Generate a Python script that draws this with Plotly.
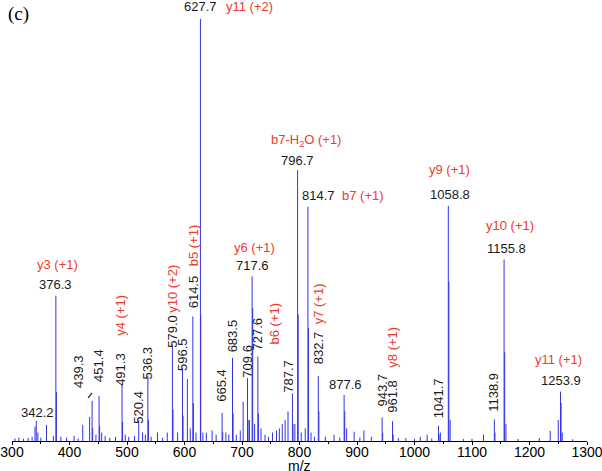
import plotly.graph_objects as go

# ---------------- data ----------------
# labelled peaks (m/z, relative intensity %)
peak_mz = [342.2, 376.3, 439.3, 451.4, 491.3, 520.4, 536.3, 579.0, 596.5, 614.5,
           627.7, 665.4, 683.5, 709.6, 717.6, 727.6, 787.7, 796.7, 814.7, 832.7,
           877.6, 943.7, 961.8, 1041.7, 1058.8, 1138.9, 1155.8, 1253.9]
peak_int = [4.8, 34.4, 9.5, 10.7, 13.3, 5.0, 15.5, 22.9, 17.4, 29.5,
            100.0, 6.7, 19.7, 14.9, 39.0, 20.0, 11.3, 64.2, 55.5, 15.4,
            10.9, 5.6, 4.7, 3.6, 55.7, 5.1, 43.0, 11.7]

# unlabelled peaks, isotopes and noise (m/z, relative intensity %)
minor_mz = [305, 312, 320, 328, 335, 340, 345, 350, 360, 372, 377.3, 385, 395, 408, 415,
            423, 435, 440.3, 446, 452.4, 456, 462, 470, 480, 492.3, 497, 503, 513, 527,
            532, 537.3, 542, 553, 562, 570, 580.0, 588, 597.5, 605, 610, 615.5, 620, 628.2,
            632, 638, 648, 655, 666.4, 672, 677, 684.5, 690, 697, 702, 710.6, 713, 718.6,
            722, 728.6, 733, 740, 746, 753, 760, 765, 770, 775, 780, 788.7, 792, 797.7,
            803, 810, 815.7, 820, 826, 833.7, 845, 860, 870, 878.6, 882, 895, 905, 912,
            925, 944.7, 962.8, 972, 985, 1000, 1010, 1022, 1030, 1042.7, 1045, 1059.8,
            1062, 1085, 1100, 1120, 1139.9, 1156.8, 1159, 1180, 1217, 1236, 1250, 1254.9,
            1257, 1275]
minor_int = [0.6, 0.8, 0.5, 0.7, 1.0, 3.4, 2.0, 0.8, 3.8, 1.2, 11.6, 1.0, 0.8, 1.2, 0.6,
             3.8, 5.7, 3.0, 1.5, 3.5, 2.0, 1.2, 0.8, 1.0, 4.5, 1.5, 1.0, 1.2, 2.0,
             1.5, 5.0, 1.0, 2.0, 0.8, 2.0, 7.5, 2.0, 6.0, 14.7, 3.0, 9.0, 2.0, 30.0,
             2.0, 2.0, 2.5, 1.5, 2.2, 2.0, 1.5, 6.5, 1.5, 2.5, 9.3, 5.0, 5.0, 31.5,
             4.0, 6.5, 3.0, 1.5, 1.0, 2.0, 2.5, 3.0, 4.0, 5.0, 7.0, 4.0, 4.0, 30.0,
             2.0, 3.0, 26.8, 2.0, 1.0, 7.0, 1.0, 1.5, 0.8, 7.0, 3.0, 2.2, 0.8, 2.5,
             1.0, 2.0, 1.5, 0.7, 0.7, 0.5, 1.0, 1.5, 0.6, 1.5, 2.0, 37.7,
             5.0, 0.5, 0.5, 1.5, 2.0, 21.0, 4.0, 0.5, 0.7, 2.4, 5.0, 9.0,
             2.0, 0.4]

# m/z value text for labelled peaks
peak_text = ["342.2", "376.3", "439.3", "451.4", "491.3", "520.4", "536.3", "579.0", "596.5",
             "614.5", "627.7", "665.4", "683.5", "709.6", "717.6", "727.6", "787.7", "796.7",
             "814.7", "832.7", "877.6", "943.7", "961.8", "1041.7", "1058.8", "1138.9",
             "1155.8", "1253.9"]

# fragment ion assignments: (peak m/z, ion label)
ion_peak = [376.3, 491.3, 579.0, 614.5, 627.7, 717.6, 727.6, 796.7, 814.7, 832.7,
            961.8, 1058.8, 1155.8, 1253.9]
ion_text = ["y3 (+1)", "y4 (+1)", "y10 (+2)", "b5 (+1)", "y11 (+2)", "y6 (+1)", "b6 (+1)",
            "b7-H<sub>2</sub>O (+1)", "b7 (+1)", "y7 (+1)", "y8 (+1)", "y9 (+1)",
            "y10 (+1)", "y11 (+1)"]

x_ticks = [300, 400, 500, 600, 700, 800, 900, 1000, 1100, 1200, 1300]
x_title = "m/z"

# ---------------- label layout (pixel offsets from the peak top: dx, up, angle) ----------
num_layout = {
    "342.2": (1, 8, 0), "376.3": (0, 11, 0), "439.3": (-13, 29, -90), "451.4": (0, 30, -90),
    "491.3": (-1, 15, -90), "520.4": (0, 13, -90), "536.3": (0, 13, -90), "579.0": (0, 13, -90),
    "596.5": (0, 13, -90), "614.5": (1, 25, -90), "627.7": (0, 12, 0), "665.4": (0, 27, -90),
    "683.5": (0, 22, -90), "709.6": (0, 17, -90), "717.6": (0, 11, 0), "727.6": (0, 23, -90),
    "787.7": (-4, 17, -90), "796.7": (0, 10, 0), "814.7": (11, 11, 0), "832.7": (0, 28, -90),
    "877.6": (1, 10, 0), "943.7": (0, 27, -90), "961.8": (0, 25, -90), "1041.7": (0, 28, -90),
    "1058.8": (2, 11, 0), "1138.9": (-1, 27, -90), "1155.8": (2, 11, 0), "1253.9": (1, 11, 0),
}
ion_layout = [(2, 31, 0), (-1, 69, -90), (0, 56, -90), (1, 71, -90), (49, 12, 0), (2, 29, 0),
              (17, 33, -90), (8, 30, 0), (55, 11, 0), (0, 72, -90), (0, 74, -90), (1, 36, 0),
              (6, 34, 0), (-2, 32, 0)]

RED = "#ee3a2c"
BLUE = "#3333e6"
FONT = "Liberation Sans, Arial, sans-serif"

# ---------------- build sticks ----------------
all_mz = peak_mz + minor_mz
all_int = peak_int + minor_int
xs, ys = [], []
for m, h in zip(all_mz, all_int):
    xs += [m, m, None]
    ys += [0, h, None]

fig = go.Figure()
fig.add_trace(go.Scatter(x=xs, y=ys, mode="lines",
                         line=dict(color=BLUE, width=1), hoverinfo="skip",
                         showlegend=False))

height_of = dict(zip(peak_mz, peak_int))

annotations = []
for m, h, t in zip(peak_mz, peak_int, peak_text):
    dx, up, ang = num_layout[t]
    annotations.append(dict(x=m, y=h, xref="x", yref="y", text=t, showarrow=False,
                            xanchor="center", yanchor="middle", xshift=dx, yshift=up,
                            textangle=ang, font=dict(family=FONT, size=13, color="#1a1a1a")))
for m, t, (dx, up, ang) in zip(ion_peak, ion_text, ion_layout):
    annotations.append(dict(x=m, y=height_of[m], xref="x", yref="y", text=t, showarrow=False,
                            xanchor="center", yanchor="middle", xshift=dx, yshift=up,
                            textangle=ang, font=dict(family=FONT, size=13, color=RED)))

annotations.append(dict(x=0.0105, y=0.979, xref="paper", yref="paper", text="(c)",
                        showarrow=False, xanchor="center", yanchor="middle",
                        font=dict(family="Liberation Serif, Times New Roman, serif",
                                  size=19, color="black")))
# axis title placed just under the tick labels
annotations.append(dict(x=0.5, y=0, xref="paper", yref="paper", text=x_title,
                        showarrow=False, xanchor="center", yanchor="middle", yshift=-25,
                        font=dict(family=FONT, size=14, color="black")))

# leader line for 439.3 label, anchored to that peak
leader = dict(type="line", xref="x", yref="y", xsizemode="pixel", ysizemode="pixel",
              xanchor=439.3, yanchor=height_of[439.3],
              x0=-4, y0=3, x1=0, y1=8, line=dict(color="#222222", width=1.2))

fig.update_layout(
    width=602, height=471,
    margin=dict(l=12, r=15, t=5, b=30, autoexpand=False),
    paper_bgcolor="white", plot_bgcolor="white",
    annotations=annotations,
    shapes=[leader],
    xaxis=dict(range=[300, 1300], tickvals=x_ticks, ticktext=[str(v) for v in x_ticks],
               automargin=False, ticklabeloverflow="allow",
               showline=True, linecolor="black", linewidth=1, showgrid=False, zeroline=False,
               ticks="outside", ticklen=3, tickcolor="black", ticklabelstandoff=-5,
               minor=dict(dtick=50, tick0=300, ticks="outside", ticklen=2, tickcolor="black"),
               tickfont=dict(family=FONT, size=14, color="black")),
    yaxis=dict(range=[0, 103.3], visible=False, automargin=False),
)

# remove the browser's default 8px page margin so the figure fills the window exactly
fig.write_html("out.html",
               config={"displayModeBar": False, "staticPlot": True},
               post_script="document.body.style.margin='0';document.body.style.overflow='hidden';")
